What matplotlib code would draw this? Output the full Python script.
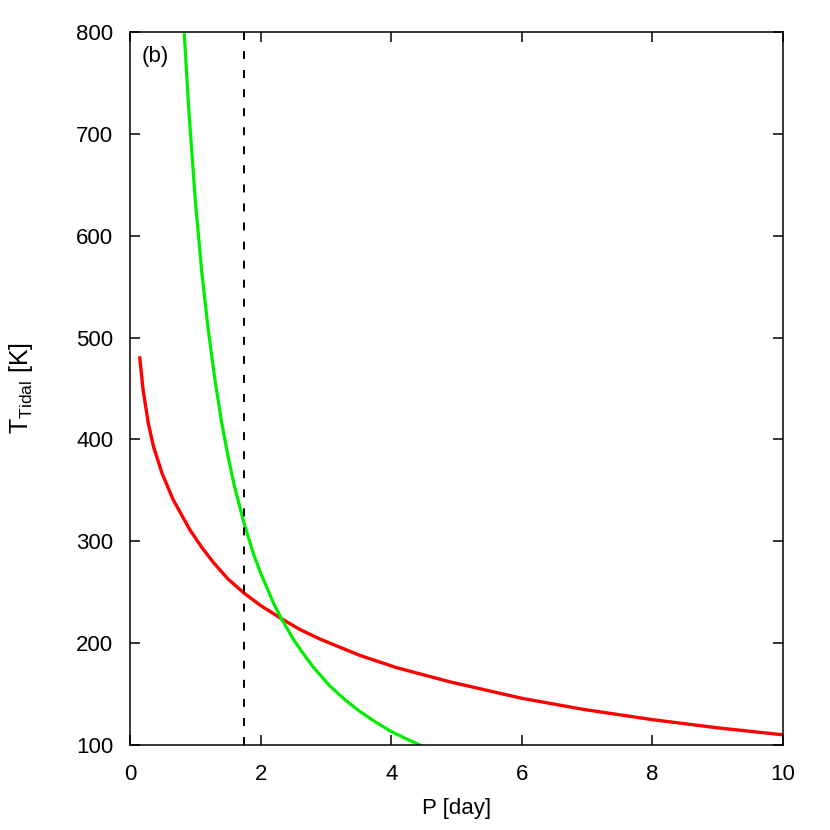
import matplotlib.pyplot as plt
import numpy as np

plt.rcParams['font.family'] = ['Liberation Sans', 'DejaVu Sans']

# red curve: T_tidal vs P
p_red = [0.15, 0.20, 0.28, 0.36, 0.49, 0.66, 0.92, 1.1, 1.28, 1.5, 1.75, 2.0, 2.32, 2.6, 2.91, 3.52,
         4.08, 4.90, 5.99, 6.94, 7.99, 8.98, 10.0]
t_red = [480, 449, 416, 393, 367, 341, 311, 294, 279, 263, 249, 237, 224, 213.5, 204, 188,
         176, 162, 146, 135, 125, 117, 110]

# green curve
p_green = [0.83, 0.90, 1.0, 1.1, 1.2, 1.3, 1.4, 1.5, 1.6, 1.75, 1.9, 2.0, 2.2, 2.32,
           2.5, 2.65, 2.8, 3.06, 3.3, 3.52, 3.75, 3.98, 4.2, 4.44]
t_green = [800, 724, 635, 564, 507, 459, 418, 384, 354, 317, 286, 269, 239, 224,
           204, 190, 177, 158, 144, 133, 123, 114, 107, 100]

p_dash = 1.75

fig = plt.figure(figsize=(8.3, 8.3), dpi=100)
ax = fig.add_axes([0.1566, 0.1024, 0.7868, 0.859])

ax.plot(p_red, t_red, color='#ff0000', lw=2.4, solid_joinstyle='round')
ax.plot(p_green, t_green, color='#00ee00', lw=2.3, solid_joinstyle='round')
ax.axvline(p_dash, color='black', lw=1.4, ls=(0, (4.1, 5.7)))

ax.set_xlim(0, 10)
ax.set_ylim(100, 800)
ax.set_xticks(np.arange(0, 11, 2))
ax.set_yticks(np.arange(100, 801, 100))
ax.tick_params(direction='in', length=7, width=1.1, top=True, right=True, labelsize=16)
ax.tick_params(axis='x', pad=14)
ax.tick_params(axis='y', pad=12)
for s in ax.spines.values():
    s.set_linewidth(1.1)

ax.set_xlabel('P [day]', fontsize=16)
ax.xaxis.set_label_coords(0.5, -0.075)
ax.set_ylabel(r'T$_{\mathregular{Tidal}}$ [K]', fontsize=18)
ax.yaxis.set_label_coords(-0.146, 0.5)
ax.text(0.018, 0.98, '(b)', transform=ax.transAxes, fontsize=16, va='top')

fig.savefig('out.png', dpi=100)
